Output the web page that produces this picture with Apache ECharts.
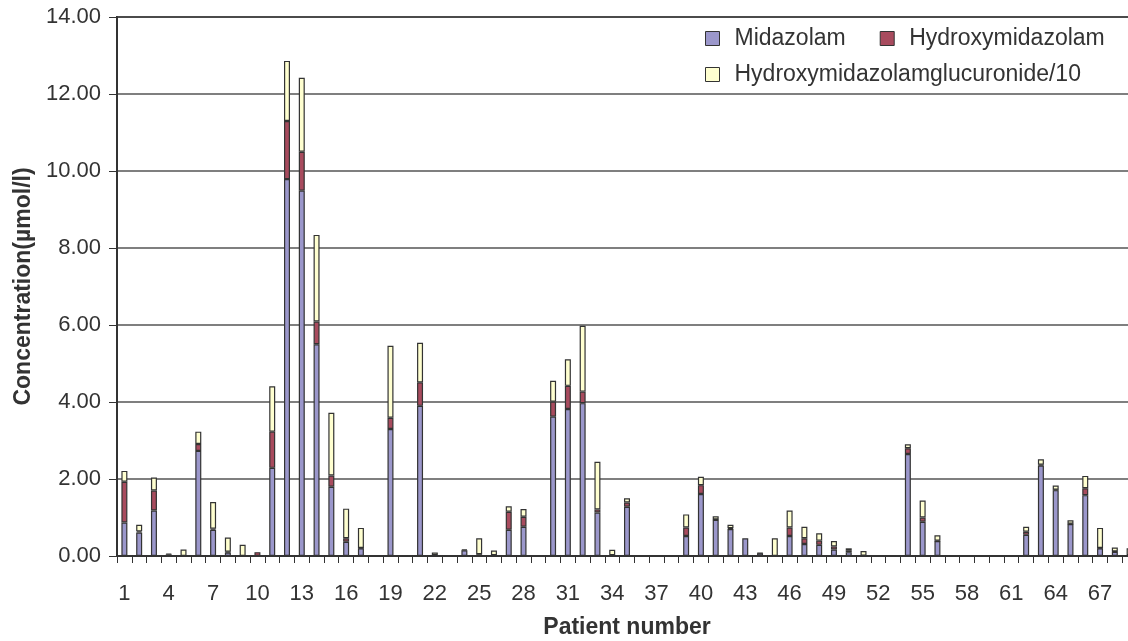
<!DOCTYPE html>
<html>
<head>
<meta charset="utf-8">
<script src="https://cdn.jsdelivr.net/npm/echarts@6/dist/echarts.min.js"></script>
<style>html,body{margin:0;padding:0;background:#fff;}#c{width:1128px;height:641px;}</style>
</head>
<body>
<div id="c"></div>
<script>
const patients = Array.from({length: 69}, (_, i) => String(i + 1));
const midazolam = [0.87,0.61,1.18,0.04,0,2.73,0.68,0.09,0,0,
  2.29,9.79,9.49,5.50,1.80,0.37,0.20,0,3.30,0.02,
  3.90,0.02,0,0.15,0.04,0.02,0.68,0.76,0,3.62,
  3.82,3.97,1.13,0.02,1.28,0,0,0,0.52,1.61,
  0.94,0.70,0.46,0.07,0,0.52,0.31,0.29,0.17,0.10,
  0.01,0,0.01,2.65,0.89,0.39,0.01,0,0,0,
  0,0.55,2.35,1.71,0.83,1.58,0.20,0.11,0.02];
const hydroxymidazolam = [1.06,0.03,0.52,0.02,0,0.18,0.03,0.02,0,0.10,
  0.94,1.51,1.01,0.59,0.29,0.09,0.01,0,0.29,0,
  0.61,0,0,0.02,0.01,0,0.47,0.26,0,0.39,
  0.60,0.30,0.08,0,0.11,0,0,0,0.22,0.23,
  0.01,0.02,0,0.01,0,0.22,0.15,0.11,0.08,0.05,
  0,0,0,0.15,0.11,0.01,0,0,0,0,
  0,0.08,0.02,0.01,0.01,0.18,0.01,0.01,0];
const glucuronide10 = [0.28,0.17,0.34,0,0.17,0.32,0.69,0.37,0.29,0,
  1.18,1.56,1.92,2.25,1.63,0.77,0.52,0,1.87,0,
  1.03,0.07,0,0,0.41,0.12,0.14,0.20,0,0.54,
  0.69,1.71,1.24,0.14,0.11,0,0,0,0.34,0.22,
  0.08,0.09,0,0,0.46,0.44,0.30,0.19,0.14,0.05,
  0.12,0,0,0.10,0.44,0.14,0,0,0,0,
  0,0.13,0.14,0.11,0.09,0.32,0.52,0.10,0.18];
const seriesNames = ['Midazolam','Hydroxymidazolam','Hydroxymidazolamglucuronide/10'];
const seriesColors = ['#9b97cb','#a84b5e','#ffffd0'];

const FONT = '"Liberation Sans", Arial, sans-serif';
const toData = arr => arr.map(v => v === 0 ? null : v);
const chart = echarts.init(document.getElementById('c'), null, {renderer: 'canvas'});
const vals = [midazolam, hydroxymidazolam, glucuronide10];
const legendBase = {left: 705, padding: 0, itemWidth: 14, itemHeight: 14, icon: 'rect',
  itemStyle: {borderColor: '#333', borderWidth: 1},
  textStyle: {fontSize: 23, color: '#333', fontFamily: FONT, padding: [0,0,0,10]}};
chart.setOption({
  animation: false,
  backgroundColor: '#fff',
  textStyle: {fontFamily: FONT},
  grid: {left: 117, top: 17, width: 1020, height: 539, outerBoundsMode: 'none', containLabel: false,
         show: true, borderColor: '#333', borderWidth: 2, backgroundColor: 'transparent'},
  legend: [
    Object.assign({}, legendBase, {data: [seriesNames[0], seriesNames[1]], top: 27, itemGap: 34}),
    Object.assign({}, legendBase, {data: [seriesNames[2]], top: 63})
  ],
  xAxis: {
    type: 'category', data: patients,
    name: 'Patient number', nameLocation: 'middle', nameGap: 60,
    nameTextStyle: {fontSize: 23, fontWeight: 'bold', color: '#333', fontFamily: FONT},
    axisLine: {lineStyle: {color: '#333', width: 2}},
    axisTick: {show: true, alignWithLabel: false, interval: 0, length: 7, lineStyle: {color: '#333', width: 1}},
    axisLabel: {interval: 2, fontSize: 22, color: '#333', margin: 27, fontFamily: FONT},
    splitLine: {show: false}
  },
  yAxis: {
    type: 'value', min: 0, max: 14, interval: 2,
    name: 'Concentration(µmol/l)', nameLocation: 'middle', nameGap: 82, nameRotate: 90,
    nameTextStyle: {fontSize: 23, fontWeight: 'bold', color: '#333', fontFamily: FONT},
    axisLine: {show: true, lineStyle: {color: '#333', width: 2}},
    axisTick: {show: true, length: 8, lineStyle: {color: '#333', width: 1}},
    axisLabel: {fontSize: 22, color: '#333', margin: 16, fontFamily: FONT, formatter: v => v.toFixed(2)},
    splitLine: {show: true, lineStyle: {color: '#555', width: 1.5}}
  },
  series: seriesNames.map((n, i) => ({
    name: n, type: 'bar', stack: 'total', barWidth: 6,
    data: toData(vals[i]),
    itemStyle: {color: seriesColors[i], borderColor: '#333', borderWidth: 1.2}
  }))
});
</script>
</body>
</html>
